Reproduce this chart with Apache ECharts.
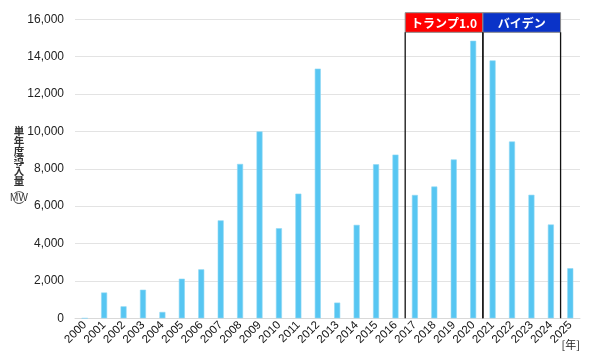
<!DOCTYPE html>
<html>
<head>
<meta charset="utf-8">
<script src="https://cdn.jsdelivr.net/npm/echarts@6/dist/echarts.min.js"></script>
<style>html,body{margin:0;padding:0;background:#fff}#c{width:600px;height:363px}</style>
</head>
<body>
<div id="c"></div>
<script>
const years = ['2000','2001','2002','2003','2004','2005','2006','2007','2008','2009','2010','2011','2012','2013','2014','2015','2016','2017','2018','2019','2020','2021','2022','2023','2024','2025'];
const capacity = [0,1380,640,1530,340,2120,2620,5240,8260,10000,4820,6670,13360,840,5000,8240,8760,6600,7050,8500,14850,13800,9460,6610,5020,2680];
const yTicks = [0,2000,4000,6000,8000,10000,12000,14000,16000];
const periodLabels = ['トランプ1.0','バイデン'];
const periodStart = ['2017','2021'];
const periodEnd = ['2020','2024'];
const periodColors = ['#ff0000','#0a33c8'];

const FONT = "'Liberation Sans', Arial, sans-serif";
const CJK = "'Noto Sans CJK JP', sans-serif";
const chart = echarts.init(document.getElementById('c'));
const periodData = periodLabels.map((l, i) => [years.indexOf(periodStart[i]), years.indexOf(periodEnd[i]), i]);
const yMax = yTicks[yTicks.length - 1];

chart.setOption({
  animation: false,
  grid: {left: 75, right: 20, top: 19.3, bottom: 44.7},
  xAxis: {
    type: 'category', data: years,
    axisLine: {lineStyle: {color: '#d9d9d9'}},
    axisTick: {show: false},
    axisLabel: {rotate: 45, fontSize: 11.5, color: '#111', margin: 5, fontFamily: FONT, interval: 0}
  },
  yAxis: {
    type: 'value', min: yTicks[0], max: yMax, interval: 2000,
    axisLine: {show: false}, axisTick: {show: false},
    splitLine: {lineStyle: {color: '#e3e3e3', width: 1}},
    axisLabel: {fontSize: 12, color: '#222', margin: 11, fontFamily: FONT,
      formatter: v => v.toLocaleString('en-US')}
  },
  graphic: [
    {type: 'text', x: 19, y: 126,
      style: {text: '{c|単}\n{c|年}\n{c|度}\n{c|導}\n{c|入}\n{c|量}\n{p|︵}\n{m|MW}\n{p|︶}',
        align: 'center',
        rich: {
          c: {fontSize: 10.5, lineHeight: 10, fontWeight: 'bold', fill: '#333', fontFamily: CJK, align: 'center'},
          p: {fontSize: 10, lineHeight: 7, fill: '#333', fontFamily: CJK, align: 'center'},
          m: {fontSize: 10, lineHeight: 10, fill: '#333', fontFamily: FONT, align: 'center'}
        }}},
    {type: 'text', right: 20, top: 339, style: {text: '[年]', fontSize: 11, fill: '#222', fontFamily: CJK}}
  ],
  series: [
    {
      type: 'bar', data: capacity, barWidth: 6,
      itemStyle: {color: '#57c6f2', borderColor: '#8fd6f4', borderWidth: 0.6}
    },
    {
      type: 'custom', data: periodData, z: 5, clip: false,
      encode: {x: [0, 1], y: 2},
      renderItem: function (params, api) {
        const s = api.value(0), e = api.value(1), i = api.value(2);
        const bw = api.size([1, 0])[0];
        const pTop = api.coord([s, yMax]);
        const pBot = api.coord([s, 0]);
        const x0 = pTop[0] - bw / 2;
        const x1 = api.coord([e, yMax])[0] + bw / 2;
        const hTop = pTop[1] - 6.6;
        const hH = 19.6;
        return {
          type: 'group',
          children: [
            {type: 'rect', shape: {x: x0, y: hTop, width: x1 - x0, height: hH},
              style: {fill: periodColors[i], stroke: '#8a8a8a', lineWidth: 1}},
            {type: 'text', x: (x0 + x1) / 2, y: hTop + hH / 2 + 0.5,
              style: {text: periodLabels[i], fill: '#fff', fontSize: 12, fontWeight: 'bold',
                fontFamily: CJK, align: 'center', verticalAlign: 'middle'}},
            {type: 'line', shape: {x1: x0, y1: hTop + hH, x2: x0, y2: pBot[1]},
              style: {stroke: '#111', lineWidth: 1.3}},
            {type: 'line', shape: {x1: x1, y1: hTop + hH, x2: x1, y2: pBot[1]},
              style: {stroke: '#111', lineWidth: 1.3}}
          ]
        };
      }
    }
  ]
});
</script>
</body>
</html>
